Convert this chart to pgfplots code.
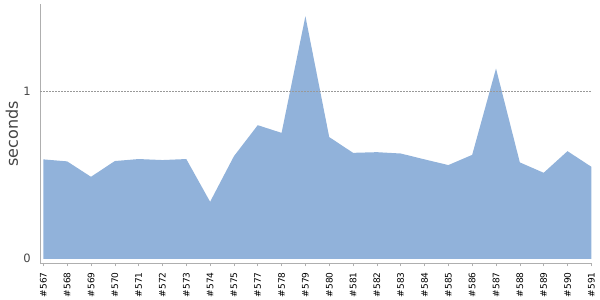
\documentclass[border=0pt]{standalone}
\usepackage{pgfplots}
\pgfplotsset{compat=1.18}
\usepackage{fontspec}
\setmainfont{DejaVu Sans}
\definecolor{areablue}{RGB}{145,178,218}
\definecolor{axgray}{RGB}{175,175,175}
\definecolor{lblgray}{RGB}{70,70,70}
\begin{document}
\begin{tikzpicture}
\useasboundingbox (0,0) rectangle (600bp,300bp);
\begin{axis}[
  at={(40bp,36.7bp)}, anchor=south west,
  scale only axis, width=551.3bp, height=259.3bp,
  xmin=-0.14, xmax=23, ymin=-0.027, ymax=1.52,
  axis lines*=left,
  axis line style={axgray, line width=0.9bp, -},
  axis on top,
  xtick={0,...,23},
  xticklabels={\#567,\#568,\#569,\#570,\#571,\#572,\#573,\#574,\#575,\#577,\#578,\#579,\#580,\#581,\#582,\#583,\#584,\#585,\#586,\#587,\#588,\#589,\#590,\#591},
  x tick label style={rotate=90, anchor=east, font=\fontsize{9bp}{10bp}\selectfont, black, inner sep=1bp},
  xticklabel shift=5bp,
  ytick={0,1},
  ytick style={draw=none},
  y tick label style={font=\fontsize{11.5bp}{12bp}\selectfont, lblgray, inner sep=1bp},
  yticklabel shift=5bp,
  /pgf/number format/assume math mode=true,
  xtick style={axgray, line width=0.6bp},
  tick align=outside, major tick length=3bp,
  extra y ticks={1}, extra y tick labels={},
  extra y tick style={grid=major, major tick length=0bp},
  grid style={gray!80, dash pattern=on 1.5bp off 1.5bp, line width=0.5bp},
  ylabel={seconds},
  ylabel style={font=\fontsize{16bp}{17bp}\selectfont, lblgray, at={(axis description cs:-0.0508,0.5)}, anchor=center, rotate=0},
  clip=false,
]
\addplot[fill=areablue, draw=none] coordinates {
(0,0.593) (1,0.581) (2,0.489) (3,0.583) (4,0.595) (5,0.589) (6,0.595) (7,0.340)
(8,0.612) (9,0.797) (10,0.751) (11,1.447) (12,0.726) (13,0.632) (14,0.636)
(15,0.628) (16,0.593) (17,0.559) (18,0.620) (19,1.135) (20,0.575) (21,0.513)
(22,0.642) (23,0.549)
} \closedcycle;
\end{axis}
\end{tikzpicture}
\end{document}
